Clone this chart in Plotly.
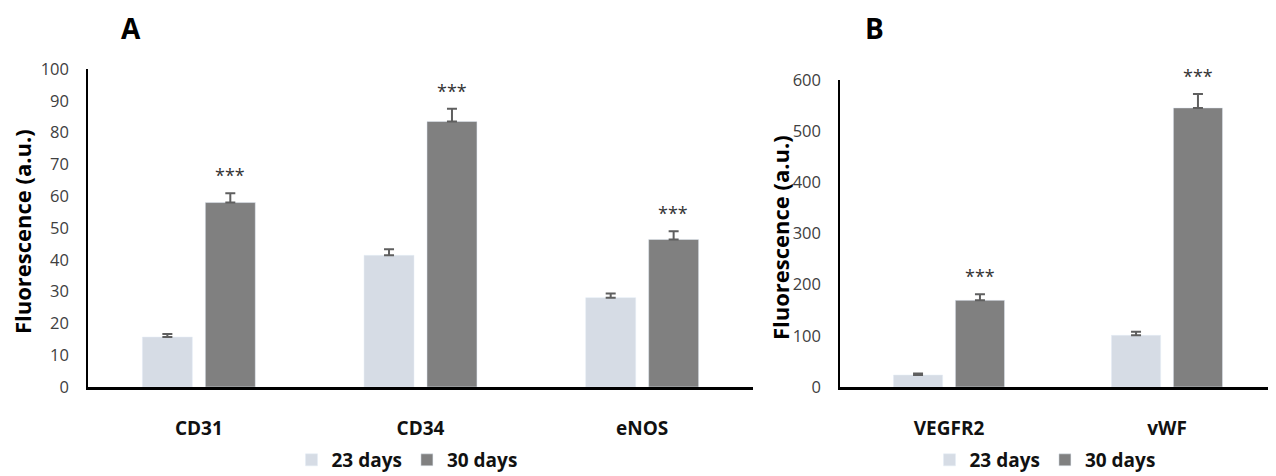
import plotly.graph_objects as go

# ---- data ----
cats_a = ["CD31", "CD34", "eNOS"]
d23_a = [15.7, 41.4, 28.1]
e23_a = [1.0, 1.9, 1.3]
d30_a = [58.0, 83.5, 46.4]
e30_a = [2.9, 4.0, 2.6]

cats_b = ["VEGFR2", "vWF"]
d23_b = [23.4, 101.0]
e23_b = [3.0, 7.0]
d30_b = [169.3, 545.5]
e30_b = [12.0, 27.0]

series_names = ["23 days", "30 days"]
sig_a = ["***", "***", "***"]
sig_b = ["***", "***"]

C_LIGHT = "#D6DCE5"
C_DARK = "#808080"
C_ERR = "#5f5f5f"
FONT = "Open Sans"

W, H = 1276, 490
OFF = 8  # page body margin of the html document


def px_x(p):
    return (p - OFF) / W


def px_y(p):
    return 1 - (p - OFF) / H


fig = go.Figure()


def err(arr):
    return dict(type="data", array=arr, arrayminus=[0] * len(arr), symmetric=False,
                color=C_ERR, thickness=2, width=5)


fig.add_trace(go.Bar(x=cats_a, y=d23_a, name=series_names[0], marker_color=C_LIGHT,
                     error_y=err(e23_a), xaxis="x", yaxis="y", legend="legend"))
fig.add_trace(go.Bar(x=cats_a, y=d30_a, name=series_names[1], marker_color=C_DARK,
                     error_y=err(e30_a), xaxis="x", yaxis="y", legend="legend"))
fig.add_trace(go.Bar(x=cats_b, y=d23_b, name=series_names[0], marker_color=C_LIGHT,
                     error_y=err(e23_b), xaxis="x2", yaxis="y2", legend="legend2"))
fig.add_trace(go.Bar(x=cats_b, y=d30_b, name=series_names[1], marker_color=C_DARK,
                     error_y=err(e30_b), xaxis="x2", yaxis="y2", legend="legend2"))

tickfont = dict(family=FONT, size=16.5, color="#404040")
catfont = dict(family=FONT, size=19, color="#111111", weight=700)

xa_common = dict(type="category", showline=True, linecolor="black", linewidth=2.5,
                 ticks="outside", ticklen=22, tickcolor="rgba(0,0,0,0)",
                 tickfont=catfont, showgrid=False, zeroline=False, automargin=False,
                 fixedrange=True)
ya_common = dict(showline=True, linecolor="black", linewidth=1.5,
                 ticks="outside", ticklen=14, tickcolor="rgba(0,0,0,0)",
                 tickfont=tickfont, showgrid=False, zeroline=False, automargin=False,
                 fixedrange=True)

annotations = []
# significance stars above the 30-day bars
for c, v, e, s in zip(cats_a, d30_a, e30_a, sig_a):
    annotations.append(dict(x=c, y=v + e, xref="x", yref="y", text=s, showarrow=False,
                            xshift=31, yshift=18, yanchor="middle",
                            font=dict(family=FONT, size=18, color="#333333")))
for c, v, e, s in zip(cats_b, d30_b, e30_b, sig_b):
    annotations.append(dict(x=c, y=v + e, xref="x2", yref="y2", text=s, showarrow=False,
                            xshift=31, yshift=18, yanchor="middle",
                            font=dict(family=FONT, size=18, color="#333333")))
# y titles
for xc, yc in [(22, 232), (780, 238)]:
    annotations.append(dict(x=px_x(xc), y=px_y(yc), xref="paper", yref="paper",
                            text="Fluorescence (a.u.)", textangle=-90, showarrow=False,
                            xanchor="center", yanchor="middle",
                            font=dict(family=FONT, size=22, color="black", weight=700)))
# panel letters
for letter, xc, yc in [("A", 131, 28), ("B", 874, 28)]:
    annotations.append(dict(x=px_x(xc), y=px_y(yc), xref="paper", yref="paper",
                            text=letter, showarrow=False, xanchor="center", yanchor="middle",
                            font=dict(family=FONT, size=28, color="black", weight=700)))

legfont = dict(family=FONT, size=19, color="#111111", weight=700)

fig.update_layout(
    width=W, height=H,
    margin=dict(l=0, r=0, t=0, b=0),
    paper_bgcolor="white", plot_bgcolor="white",
    barmode="group", bargap=0.432, bargroupgap=0.206,
    showlegend=True,
    xaxis=dict(domain=[px_x(88), px_x(753)], anchor="y", **xa_common),
    yaxis=dict(domain=[px_y(387), px_y(69)], anchor="x", range=[0, 100], dtick=10,
               **ya_common),
    xaxis2=dict(domain=[px_x(840), px_x(1276)], anchor="y2", **xa_common),
    yaxis2=dict(domain=[px_y(387), px_y(80)], anchor="x2", range=[0, 600], dtick=100,
                **ya_common),
    legend=dict(orientation="h", x=px_x(407), y=px_y(460), xanchor="center",
                yanchor="middle", font=legfont, bgcolor="rgba(0,0,0,0)"),
    legend2=dict(orientation="h", x=px_x(1045), y=px_y(460), xanchor="center",
                 yanchor="middle", font=legfont, bgcolor="rgba(0,0,0,0)"),
    annotations=annotations,
)

fig.write_html("out.html")
